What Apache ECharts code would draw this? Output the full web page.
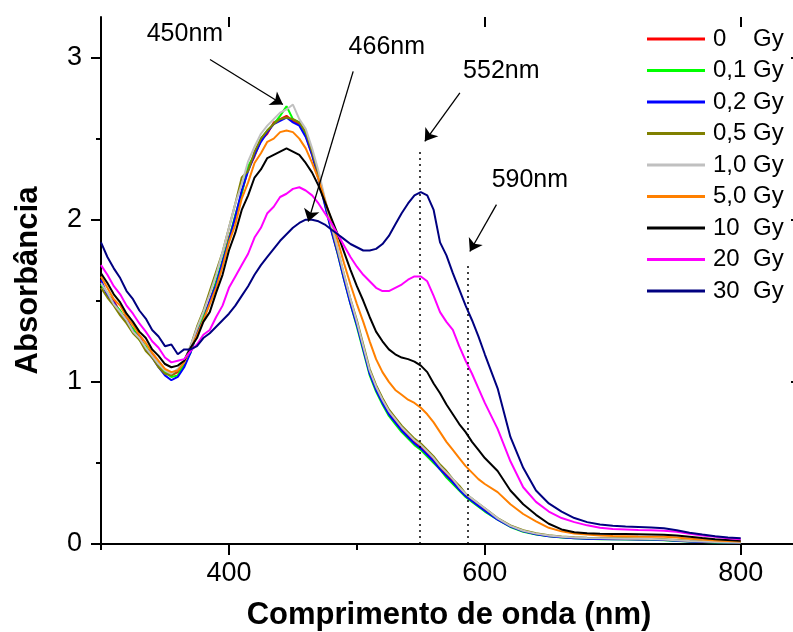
<!DOCTYPE html>
<html>
<head>
<meta charset="utf-8">
<script src="https://cdn.jsdelivr.net/npm/echarts@6/dist/echarts.min.js"></script>
<style>
html,body{margin:0;padding:0;background:#fff;}
#chart{width:793px;height:632px;}
</style>
</head>
<body>
<div id="chart"></div>
<script>
// wavelengths (nm)
var wavelengths = [300,305,310,315,320,325,330,335,340,345,350,355,
  360,365,370,375,380,385,390,395,400,405,410,415,420,425,430,435,440,445,450,455,
  460,465,470,475,480,485,490,495,500,505,510,515,520,525,530,535,540,545,550,555,560,565,570,575,580,585,590,595,600,
  610,620,630,640,650,660,670,680,690,700,710,720,730,740,750,760,770,780,790,800];

var seriesNames = ['0    Gy','0,1 Gy','0,2 Gy','0,5 Gy','1,0 Gy','5,0 Gy','10  Gy','20  Gy','30  Gy'];
var seriesColors = ['#ff0000','#00ff00','#0000ff','#808000','#c0c0c0','#ff8000','#000000','#ff00ff','#000080'];

var abs0Gy = [1.62,1.54,1.50,1.43,1.39,1.32,1.28,1.21,1.17,1.10,1.07,1.04,
  1.06,1.10,1.19,1.31,1.39,1.50,1.61,1.73,1.89,2.01,2.17,2.31,2.39,2.49,2.53,2.60,2.62,2.64,2.61,2.59,
  2.52,2.40,2.26,2.10,1.94,1.80,1.64,1.49,1.36,1.21,1.06,0.96,0.88,0.81,0.76,0.71,0.67,0.63,0.60,0.56,0.52,0.47,0.43,0.39,0.34,0.30,0.27,0.24,0.21,
  0.155,0.11,0.08,0.062,0.05,0.043,0.038,0.035,0.033,0.032,0.031,0.03,0.029,0.026,0.021,0.017,0.014,0.012,0.01,0.009];
var abs01Gy = [1.60,1.55,1.48,1.44,1.37,1.33,1.26,1.22,1.15,1.11,1.06,1.03,
  1.04,1.11,1.18,1.30,1.41,1.49,1.62,1.75,1.88,2.03,2.16,2.33,2.40,2.50,2.55,2.59,2.64,2.70,2.62,2.60,
  2.53,2.41,2.26,2.10,1.94,1.79,1.63,1.48,1.34,1.19,1.04,0.94,0.86,0.79,0.74,0.69,0.65,0.61,0.58,0.54,0.50,0.46,0.41,0.37,0.33,0.29,0.26,0.23,0.20,
  0.15,0.105,0.075,0.058,0.047,0.04,0.035,0.032,0.03,0.029,0.028,0.027,0.026,0.023,0.019,0.015,0.012,0.01,0.008,0.007];
var abs02Gy = [1.63,1.53,1.49,1.42,1.38,1.31,1.27,1.20,1.15,1.09,1.04,1.01,
  1.03,1.09,1.18,1.30,1.38,1.50,1.60,1.74,1.87,2.02,2.18,2.30,2.40,2.48,2.54,2.59,2.61,2.63,2.60,2.58,
  2.51,2.40,2.25,2.09,1.93,1.79,1.63,1.48,1.35,1.20,1.05,0.95,0.87,0.80,0.75,0.70,0.66,0.62,0.59,0.55,0.51,0.46,0.42,0.38,0.335,0.295,0.265,0.235,0.205,
  0.15,0.107,0.078,0.06,0.048,0.041,0.036,0.033,0.031,0.03,0.029,0.028,0.027,0.024,0.02,0.016,0.013,0.011,0.009,0.008];
var abs05Gy = [1.58,1.52,1.47,1.41,1.36,1.30,1.26,1.19,1.15,1.09,1.05,1.04,
  1.07,1.13,1.22,1.34,1.44,1.56,1.68,1.80,1.95,2.10,2.26,2.30,2.42,2.50,2.55,2.59,2.62,2.63,2.62,2.60,
  2.54,2.42,2.28,2.12,1.96,1.81,1.66,1.51,1.38,1.23,1.08,0.98,0.90,0.83,0.78,0.73,0.69,0.65,0.62,0.58,0.54,0.49,0.45,0.40,0.36,0.31,0.28,0.25,0.22,
  0.16,0.115,0.085,0.066,0.054,0.047,0.042,0.039,0.037,0.036,0.035,0.034,0.033,0.03,0.025,0.02,0.017,0.015,0.013,0.011];
var abs10Gy = [1.61,1.55,1.48,1.43,1.38,1.31,1.27,1.21,1.16,1.11,1.07,1.05,
  1.08,1.12,1.22,1.33,1.43,1.54,1.66,1.80,1.95,2.10,2.22,2.36,2.45,2.53,2.58,2.62,2.66,2.68,2.71,2.62,
  2.56,2.44,2.30,2.13,1.97,1.82,1.66,1.51,1.37,1.22,1.07,0.97,0.89,0.82,0.77,0.72,0.68,0.64,0.61,0.57,0.53,0.48,0.44,0.40,0.35,0.31,0.28,0.25,0.22,
  0.158,0.112,0.082,0.064,0.052,0.045,0.04,0.037,0.035,0.034,0.033,0.032,0.031,0.028,0.023,0.018,0.015,0.013,0.011,0.01];
var abs50Gy = [1.65,1.58,1.51,1.47,1.40,1.35,1.29,1.24,1.18,1.13,1.08,1.06,
  1.07,1.12,1.20,1.29,1.38,1.48,1.58,1.71,1.86,1.97,2.13,2.23,2.35,2.41,2.48,2.50,2.54,2.55,2.54,2.50,
  2.44,2.35,2.25,2.12,2.00,1.87,1.73,1.60,1.48,1.37,1.25,1.14,1.06,1.00,0.95,0.92,0.89,0.87,0.84,0.80,0.75,0.69,0.63,0.58,0.53,0.48,0.44,0.40,0.37,
  0.32,0.245,0.185,0.14,0.10,0.078,0.065,0.058,0.053,0.05,0.048,0.046,0.045,0.044,0.04,0.033,0.027,0.022,0.018,0.015];
var abs10GyB = [1.67,1.61,1.54,1.49,1.42,1.37,1.31,1.27,1.20,1.16,1.11,1.09,
  1.10,1.13,1.21,1.27,1.37,1.43,1.55,1.66,1.81,1.92,2.06,2.15,2.26,2.31,2.38,2.40,2.42,2.44,2.42,2.40,
  2.35,2.29,2.21,2.11,2.01,1.91,1.80,1.69,1.59,1.50,1.40,1.31,1.25,1.20,1.17,1.15,1.14,1.125,1.10,1.06,0.99,0.93,0.86,0.80,0.74,0.69,0.63,0.58,0.53,
  0.45,0.33,0.245,0.18,0.125,0.09,0.072,0.066,0.063,0.062,0.061,0.06,0.059,0.057,0.053,0.045,0.037,0.03,0.025,0.02];
var abs20Gy = [1.72,1.66,1.59,1.54,1.47,1.42,1.36,1.31,1.25,1.21,1.15,1.12,
  1.13,1.14,1.19,1.23,1.29,1.32,1.40,1.47,1.58,1.65,1.72,1.79,1.89,1.95,2.04,2.08,2.14,2.16,2.19,2.20,
  2.18,2.15,2.10,2.04,1.98,1.91,1.84,1.77,1.71,1.66,1.62,1.58,1.56,1.56,1.58,1.60,1.63,1.65,1.65,1.62,1.53,1.43,1.37,1.32,1.22,1.13,1.05,0.96,0.87,
  0.71,0.51,0.35,0.26,0.20,0.16,0.135,0.115,0.10,0.093,0.09,0.087,0.085,0.082,0.075,0.063,0.052,0.044,0.036,0.03];
var abs30Gy = [1.86,1.77,1.70,1.64,1.56,1.51,1.44,1.39,1.32,1.28,1.22,1.23,
  1.17,1.20,1.20,1.22,1.27,1.30,1.34,1.38,1.42,1.47,1.53,1.59,1.66,1.72,1.77,1.82,1.87,1.91,1.95,1.98,
  2.00,2.00,1.99,1.97,1.94,1.91,1.88,1.85,1.83,1.81,1.81,1.82,1.85,1.90,1.97,2.04,2.10,2.15,2.17,2.15,2.06,1.86,1.78,1.67,1.57,1.47,1.38,1.28,1.17,
  0.96,0.66,0.47,0.33,0.25,0.20,0.16,0.135,0.12,0.113,0.108,0.105,0.102,0.097,0.085,0.07,0.058,0.048,0.04,0.035];

var seriesValues = [abs0Gy, abs01Gy, abs02Gy, abs05Gy, abs10Gy, abs50Gy, abs10GyB, abs20Gy, abs30Gy];

// axis ranges and ticks
var xMin = 300, xMax = 844, yMin = 0, yMax = 3.25;
var xMajorTicks = [400, 600, 800];
var yTickLabels = [0, 1, 2, 3];

// annotations (data coordinates)
var peakLabels = ['450nm','466nm','552nm','590nm'];
var labelPos = [[365.6,3.142],[523.4,3.062],[612.9,2.914],[635.2,2.247]];
var arrowFrom = [[385.2,2.988],[497.1,2.915],[580.5,2.782],[609.1,2.093]];
var arrowTo = [[442.2,2.710],[462.0,1.989],[553.1,2.483],[588.3,1.804]];
var dropX = [549.2, 586.5];
var dropTop = [2.432, 1.735];

var FONT = 'Liberation Sans, Arial, Helvetica, sans-serif';

// layout of plot box
var G = {left: 101, top: 17, width: 696, height: 527};
var pxPerNm = G.width / (xMax - xMin);
var pxPerAbs = G.height / (yMax - yMin);
var majLeft = G.left + (xMajorTicks[0] - xMin) * pxPerNm;
var yTop3 = G.top + (yMax - yTickLabels[3]) * pxPerAbs;

var series = seriesNames.map(function(name, i){
  return {
    name: name, type: 'line', xAxisIndex: 0, yAxisIndex: 0,
    showSymbol: false, symbol: 'none',
    lineStyle: {color: seriesColors[i], width: 2},
    itemStyle: {color: seriesColors[i]},
    data: wavelengths.map(function(w, k){ return [w, seriesValues[i][k]]; })
  };
});

series.push({
  name: 'annot', type: 'line', xAxisIndex: 0, yAxisIndex: 0, data: [], silent: true,
  markLine: {
    silent: true, animation: false,
    symbol: ['none','arrow'], symbolSize: 12,
    label: {show: false},
    lineStyle: {color: '#000', width: 1.3, type: 'solid'},
    emphasis: {disabled: true},
    data: arrowFrom.map(function(p, i){ return [{coord: p}, {coord: arrowTo[i]}]; })
  },
  markPoint: {
    silent: true, animation: false,
    symbol: 'circle', symbolSize: 1,
    itemStyle: {color: 'rgba(0,0,0,0)'},
    label: {show: true, position: 'inside', color: '#000', fontSize: 25, fontFamily: FONT,
      formatter: function(p){ return p.name; }},
    data: peakLabels.map(function(t, i){ return {name: t, coord: labelPos[i]}; })
  }
});
series.push({
  name: 'drops', type: 'line', xAxisIndex: 0, yAxisIndex: 0, data: [], silent: true,
  markLine: {
    silent: true, animation: false,
    symbol: ['none','none'],
    label: {show: false},
    lineStyle: {color: '#000', width: 1.5, type: [2,4]},
    emphasis: {disabled: true},
    data: dropX.map(function(x, i){ return [{coord: [x, 0]}, {coord: [x, dropTop[i]]}]; })
  }
});

var lineAxis = {show: true, lineStyle: {color: '#000', width: 2}};
var tickStyle = {color: '#000', width: 2};
var noAxis = {show: false};

var option = {
  animation: false,
  backgroundColor: '#fff',
  textStyle: {fontFamily: FONT},
  grid: [
    {left: G.left, top: G.top, width: G.width, height: G.height, outerBoundsMode: 'none', containLabel: false},
    {left: majLeft, top: G.top, width: G.left + G.width - majLeft, height: G.height, outerBoundsMode: 'none', containLabel: false},
    {left: G.left, top: yTop3, width: G.width, height: G.top + G.height - yTop3, outerBoundsMode: 'none', containLabel: false}
  ],
  legend: {
    orient: 'vertical', left: 647, top: 27, padding: 0,
    itemWidth: 58, itemHeight: 3, itemGap: 7.5,
    icon: 'rect',
    data: seriesNames,
    textStyle: {fontSize: 24, lineHeight: 24, color: '#000', fontFamily: FONT, padding: [0,0,0,3]},
    selectedMode: false
  },
  xAxis: [
    {gridIndex: 0, type: 'value', position: 'bottom', min: xMin, max: xMax, interval: 100,
      axisLine: lineAxis, splitLine: noAxis,
      axisTick: {show: true, length: 6, lineStyle: tickStyle}, axisLabel: noAxis,
      name: 'Comprimento de onda (nm)', nameLocation: 'middle', nameGap: 56,
      nameTextStyle: {fontSize: 31, fontWeight: 'bold', color: '#000', fontFamily: FONT}},
    {gridIndex: 0, type: 'value', position: 'top', min: xMin, max: xMax, interval: 100,
      axisLine: lineAxis, splitLine: noAxis,
      axisTick: {show: true, inside: true, length: 6, lineStyle: tickStyle}, axisLabel: noAxis},
    {gridIndex: 1, type: 'value', position: 'bottom', min: xMajorTicks[0], max: xMax, interval: 200,
      axisLine: noAxis, splitLine: noAxis,
      axisTick: {show: true, length: 11, lineStyle: tickStyle},
      axisLabel: {show: true, fontSize: 27, color: '#000', margin: 16, fontFamily: FONT,
        formatter: function(v){ return xMajorTicks.indexOf(v) >= 0 ? String(v) : ''; }}},
    {gridIndex: 1, type: 'value', position: 'top', min: xMajorTicks[0], max: xMax, interval: 200,
      axisLine: noAxis, splitLine: noAxis,
      axisTick: {show: true, inside: true, length: 10, lineStyle: tickStyle}, axisLabel: noAxis},
    {gridIndex: 2, type: 'value', show: false, min: 0, max: 1}
  ],
  yAxis: [
    {gridIndex: 0, type: 'value', position: 'left', min: yMin, max: yMax,
      axisLine: lineAxis, axisTick: noAxis, axisLabel: noAxis, splitLine: noAxis,
      name: 'Absorbância', nameLocation: 'middle', nameGap: 57, nameRotate: 90,
      nameTextStyle: {fontSize: 31, fontWeight: 'bold', color: '#000', fontFamily: FONT}},
    {gridIndex: 0, type: 'value', position: 'right', min: yMin, max: yMax,
      axisLine: lineAxis, axisTick: noAxis, axisLabel: noAxis, splitLine: noAxis},
    {gridIndex: 1, type: 'value', show: false, min: 0, max: 1},
    {gridIndex: 2, type: 'value', position: 'left', min: 0, max: 3, interval: 1,
      axisLine: noAxis, splitLine: noAxis,
      axisTick: {show: true, length: 10, lineStyle: tickStyle},
      minorTick: {show: true, splitNumber: 2, length: 5, lineStyle: tickStyle},
      axisLabel: {show: true, fontSize: 27, color: '#000', margin: 19, fontFamily: FONT,
        formatter: function(v){ return yTickLabels.indexOf(v) >= 0 ? String(v) : ''; }}},
    {gridIndex: 2, type: 'value', position: 'right', min: 0, max: 3, interval: 1,
      axisLine: noAxis, splitLine: noAxis,
      axisTick: {show: true, inside: true, length: 6, lineStyle: tickStyle},
      axisLabel: noAxis}
  ],
  series: series
};

var chart = echarts.init(document.getElementById('chart'), null, {renderer: 'canvas'});
chart.setOption(option);
</script>
</body>
</html>
